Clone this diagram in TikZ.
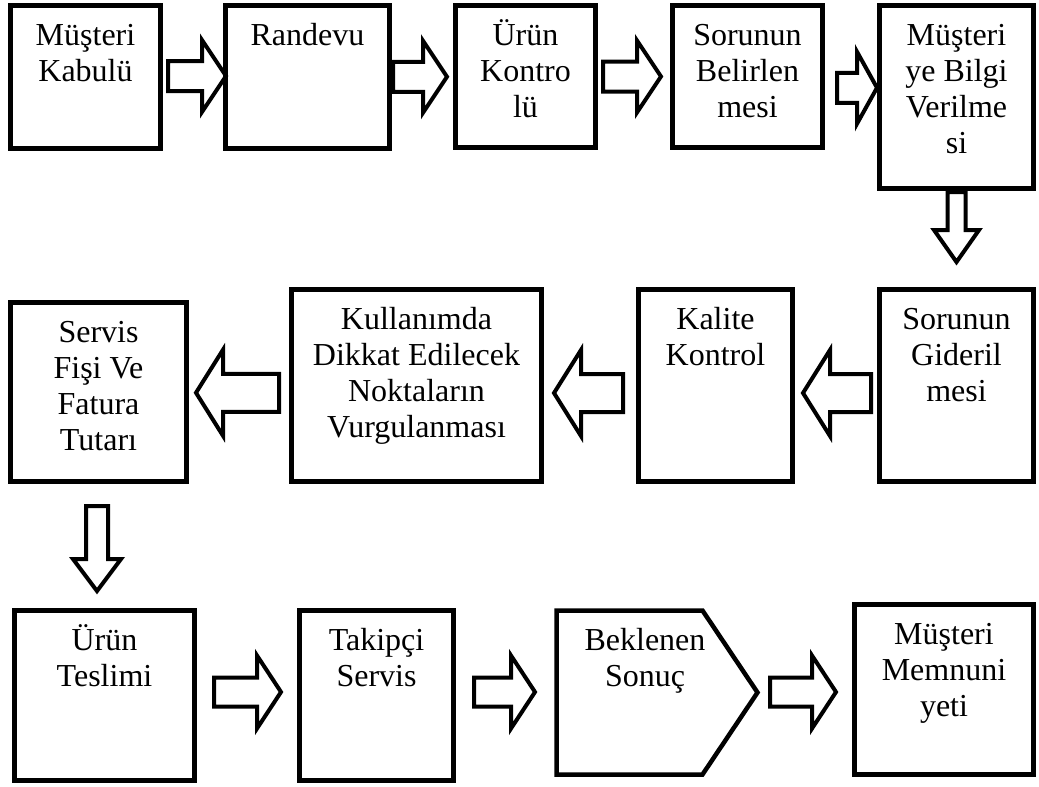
\documentclass[tikz,border=0pt]{standalone}
\usepackage{fontspec}
\setmainfont{Liberation Serif}
\usetikzlibrary{calc}

\newcommand{\boxstrut}{\rule{0pt}{30pt}}
% #1 centre, #2 rotation, #3 length, #4 shaft width, #5 head width, #6 head length
\newcommand{\blockarr}[6]{%
  \draw[arr, shift={#1}, rotate=#2]
    (-#3/2,-#4/2) -- (#3/2-#6,-#4/2) -- (#3/2-#6,-#5/2) -- (#3/2,0)
    -- (#3/2-#6,#5/2) -- (#3/2-#6,#4/2) -- (-#3/2,#4/2) -- cycle;}

\begin{document}
\begin{tikzpicture}[x=1pt, y=-1pt,
    box/.style={draw, line width=4.5pt, anchor=north west, inner sep=0pt, outer sep=0pt},
    txt/.style={anchor=north, align=center, inner sep=0pt, font=\fontsize{32}{36}\selectfont},
    arr/.style={draw, line width=4pt, line join=miter}]
  \useasboundingbox (0,0) rectangle (1039,787);

  \node[box, minimum width=150, minimum height=143] (m1) at (10.5,5.5) {};
  \node[box, minimum width=164, minimum height=143] (m2) at (225.5,5.5) {};
  \node[box, minimum width=140, minimum height=142] (m3) at (455.5,5.5) {};
  \node[box, minimum width=150, minimum height=142] (m4) at (672.5,5.5) {};
  \node[box, minimum width=154, minimum height=183] (m5) at (879.5,5.5) {};

  \node[box, minimum width=154, minimum height=192] (s1) at (879.5,289.5) {};
  \node[box, minimum width=154, minimum height=192] (s2) at (638.5,289.5) {};
  \node[box, minimum width=250, minimum height=192] (s3) at (291.5,289.5) {};
  \node[box, minimum width=176, minimum height=179] (s4) at (10.5,302.5) {};

  \node[box, minimum width=180, minimum height=170] (t1) at (14.5,610.5) {};
  \node[box, minimum width=154, minimum height=170] (t2) at (299.5,610.5) {};
  \node[box, draw=none, minimum width=201, minimum height=164] (t3) at (556.5,610.5) {};
  \node[box, minimum width=179, minimum height=170] (t4) at (854.5,604.5) {};
  \draw[line width=4.5pt] (t3.north west) -- ([xshift=-55pt]t3.north east) -- (t3.east)
    -- ([xshift=-55pt]t3.south east) -- (t3.south west) -- cycle;

  \node[txt] (m1t) at ([yshift=-9.5pt]m1.north) {\boxstrut Müşteri\\Kabulü};
  \node[txt] (m2t) at ([yshift=-9.5pt]m2.north) {\boxstrut Randevu};
  \node[txt] (m3t) at ([yshift=-9.5pt]m3.north) {\boxstrut Ürün\\Kontro\\lü};
  \node[txt] (m4t) at ([yshift=-9.5pt]m4.north) {\boxstrut Sorunun\\Belirlen\\mesi};
  \node[txt] (m5t) at ([yshift=-9.5pt]m5.north) {\boxstrut Müşteri\\ye Bilgi\\Verilme\\si};
  \node[txt] (s1t) at ([yshift=-9.5pt]s1.north) {\boxstrut Sorunun\\Gideril\\mesi};
  \node[txt] (s2t) at ([yshift=-9.5pt]s2.north) {\boxstrut Kalite\\Kontrol};
  \node[txt] (s3t) at ([yshift=-9.5pt]s3.north) {\boxstrut Kullanımda\\Dikkat Edilecek\\Noktaların\\Vurgulanması};
  \node[txt] (s4t) at ([yshift=-9.5pt]s4.north) {\boxstrut Servis\\Fişi Ve\\Fatura\\Tutarı};
  \node[txt] (t1t) at ([yshift=-9.5pt]t1.north) {\boxstrut Ürün\\Teslimi};
  \node[txt] (t2t) at ([yshift=-9.5pt]t2.north) {\boxstrut Takipçi\\Servis};
  \node[txt] (t3t) at ([xshift=-12pt, yshift=-9.5pt]t3.north) {\boxstrut Beklenen\\Sonuç};
  \node[txt] (t4t) at ([yshift=-9.5pt]t4.north) {\boxstrut Müşteri\\Memnuni\\yeti};

  \blockarr{($(m1.east)!.5!(m2.west)+(4,-1)$)}{0}{58}{30}{72}{24}
  \blockarr{($(m2.east)!.5!(m3.west)+(-2.5,0)$)}{0}{54}{30}{72}{24}
  \blockarr{($(m3.east)!.5!(m4.west)+(-2,0)$)}{0}{58}{30}{72}{24}
  \blockarr{($(m4.east)!.5!(m5.west)+(6,1)$)}{0}{40}{30}{72}{20}
  \blockarr{($(m5.south)!.5!(s1.north)+(0,-12)$)}{-90}{70}{18}{45}{32}
  \blockarr{($(s1.west)!.5!(s2.east)+(1,7.5)$)}{180}{68}{38}{86}{27}
  \blockarr{($(s2.west)!.5!(s3.east)+(-1.5,7.5)$)}{180}{69}{38}{86}{27}
  \blockarr{($(s3.west)!.5!(s4.east)+(-1.5,4)$)}{180}{83}{38}{86}{27}
  \blockarr{($(s4.south)!.5!(t1.north)+(-4.5,2.5)$)}{-90}{85}{22}{48}{32}
  \blockarr{($(t1.east)!.5!(t2.west)+(0.5,-3.5)$)}{0}{67}{29}{73}{24}
  \blockarr{($(t2.east)!.5!(t3.west)+(-0.5,-2)$)}{0}{61}{29}{73}{24}
  \blockarr{($(t3.east)!.5!(t4.west)+(-3,1)$)}{0}{66}{29}{73}{24}
\end{tikzpicture}
\end{document}
